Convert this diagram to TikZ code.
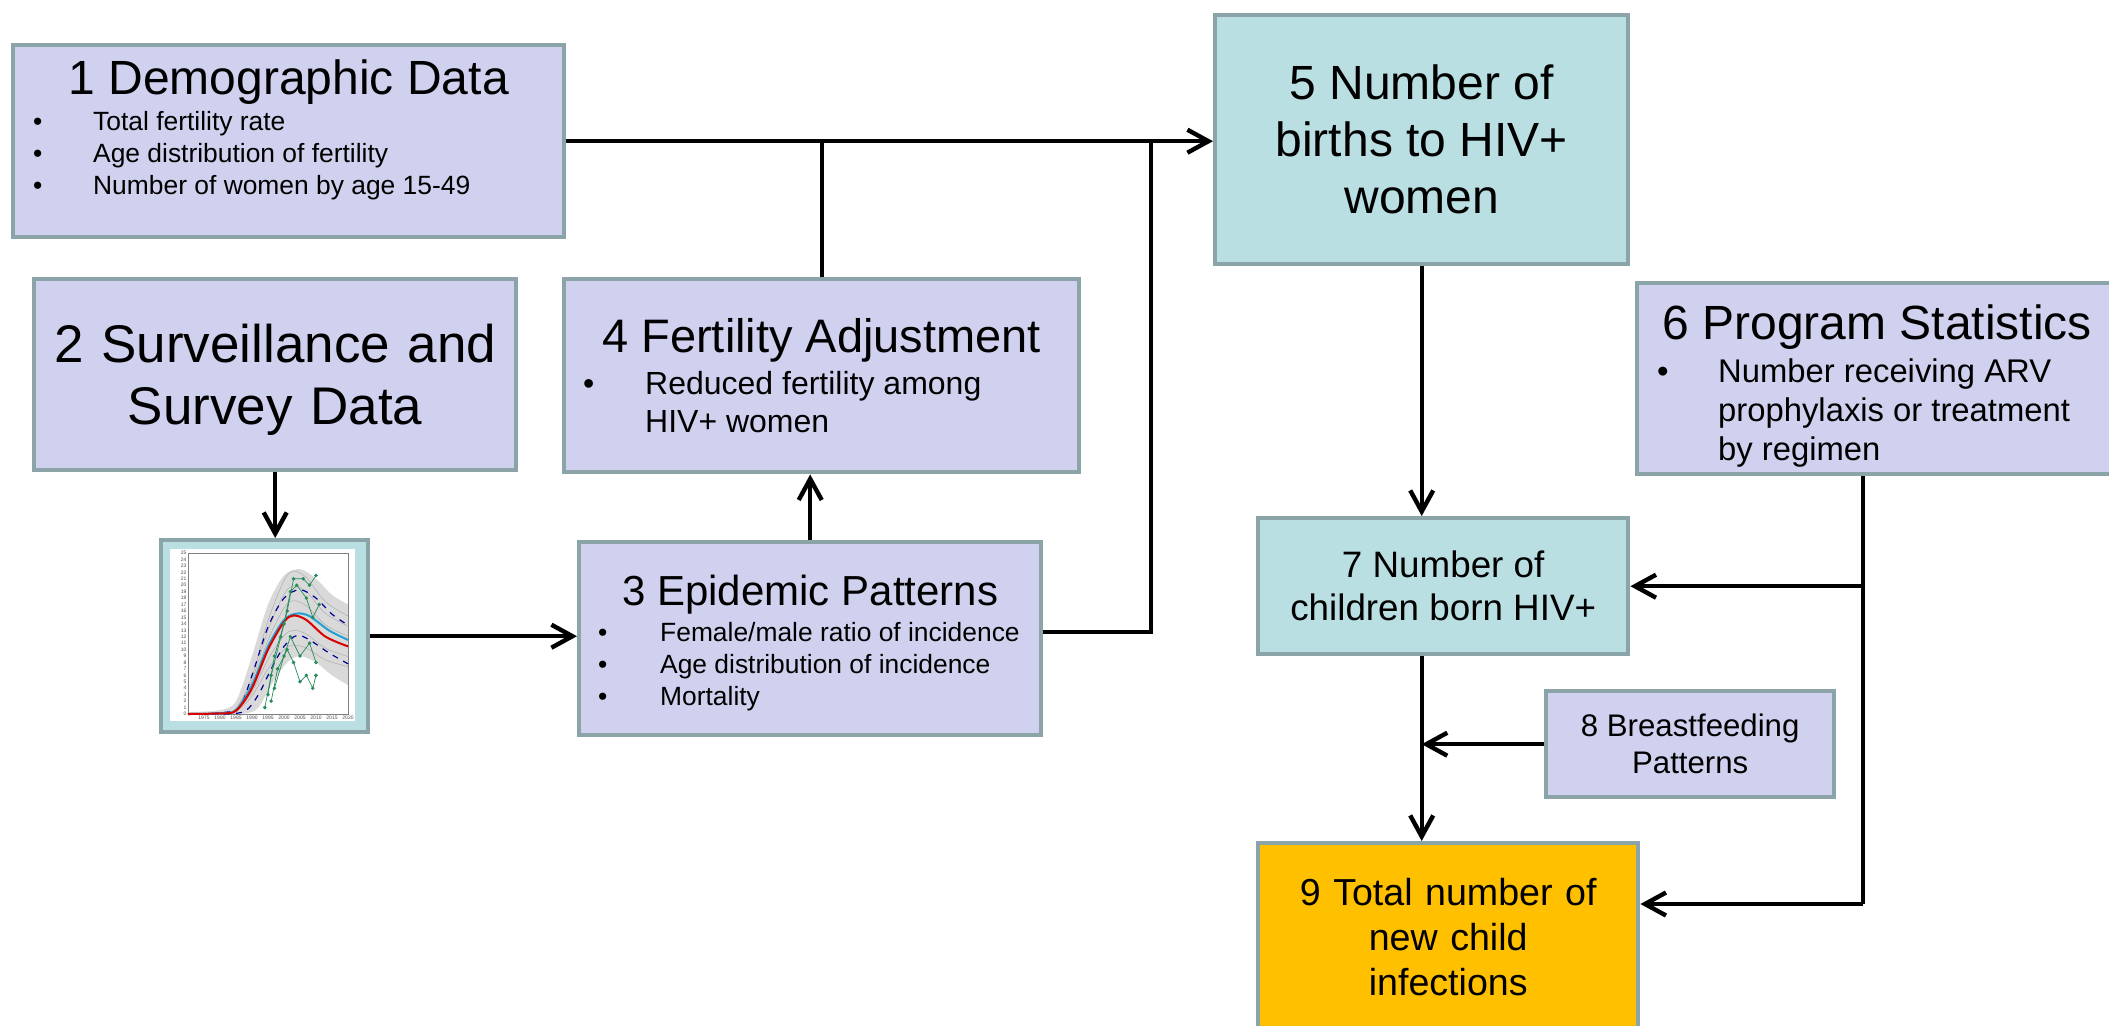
\documentclass[tikz,border=0pt]{standalone}
\usepackage{fontspec}
\setmainfont{Liberation Sans}
\usetikzlibrary{arrows.meta}

\definecolor{boxlav}{RGB}{208,209,238}
\definecolor{boxteal}{RGB}{186,223,226}
\definecolor{boxgold}{RGB}{255,192,0}
\definecolor{edgegray}{RGB}{138,164,167}
\definecolor{dotgreen}{RGB}{40,140,90}

% font size with normal word spaces, bullet line and its continuation
\newcommand{\fs}[2]{\fontsize{#1}{#2}\selectfont\spaceskip=0pt\xspaceskip=0pt\relax}
\newcommand{\bitem}[2]{\par\noindent\makebox[#1][l]{\textbullet}#2}
\newcommand{\bmore}[2]{\par\noindent\hspace*{#1}#2}
\newcommand{\boxtitle}[2]{{\centering\fs{#1}{#1}#2\par}}
% extra room under the text of a box (moves the text up)
\newcommand{\lift}[1]{\par\vspace{#1}\hrule height0pt}

\begin{document}
\begin{tikzpicture}[x=0.5pt, y=-0.5pt,
  box/.style={draw=edgegray, line width=2.2pt, inner sep=0pt, anchor=north west},
  lavbox/.style={box, fill=boxlav},
  tealbox/.style={box, fill=boxteal},
  goldbox/.style={box, fill=boxgold},
  flow/.style={line width=2.2pt, -{Straight Barb[length=10.5pt,width=11.5pt]}},
  link/.style={line width=2.2pt},
  tick/.style={font=\fontsize{2.5}{3}\selectfont, inner sep=0.6pt, text=black!70}]
  \clip (0,0) rectangle (2109,1025);

  % input boxes
  \node[lavbox, minimum width=275.5pt, minimum height=96pt, text width=255.5pt,
        inner xsep=10pt, align=left] (demog) at (11,43) {%
    \boxtitle{24}{1 Demographic Data}\vspace{2pt}
    \fs{13.2}{16}
    \bitem{30pt}{Total fertility rate}
    \bitem{30pt}{Age distribution of fertility}
    \bitem{30pt}{Number of women by age 15-49}\lift{11pt}};
  \node[lavbox, minimum width=241pt, minimum height=95.5pt, text width=241pt,
        align=center, font=\fontsize{26.5}{31}\selectfont] (surv) at (32,277)
    {2 Surveillance and\\Survey Data\lift{-5.5pt}};
  \node[lavbox, minimum width=257.5pt, minimum height=96.5pt, text width=238.5pt,
        inner xsep=9.5pt, align=left] (fert) at (562,277) {%
    \boxtitle{23.5}{4 Fertility Adjustment}\vspace{2pt}
    \fs{16}{19}
    \bitem{31pt}{Reduced fertility among}
    \bmore{31pt}{HIV+ women}\par};
  \node[lavbox, minimum width=231pt, minimum height=96.5pt, text width=212pt,
        inner xsep=9.5pt, align=left] (epid) at (577,540) {%
    \boxtitle{21}{3 Epidemic Patterns}\vspace{2pt}
    \fs{13.2}{16}
    \bitem{31pt}{Female/male ratio of incidence}
    \bitem{31pt}{Age distribution of incidence}
    \bitem{31pt}{Mortality}\lift{-4pt}};
  \node[lavbox, minimum width=240pt, minimum height=95.5pt, text width=220pt,
        inner xsep=10pt, align=left] (prog) at (1635,281) {%
    \boxtitle{24}{6 Program Statistics}\vspace{2pt}
    \fs{16.4}{19.5}
    \bitem{30.5pt}{Number receiving ARV}
    \bmore{30.5pt}{prophylaxis or treatment}
    \bmore{30.5pt}{by regimen}\lift{-7.5pt}};
  \node[lavbox, minimum width=144pt, minimum height=53pt, align=center,
        font=\fontsize{15.6}{18.5}\selectfont] (breast) at (1544,689)
    {8 Breastfeeding\\Patterns};

  % results
  \node[tealbox, minimum width=206.5pt, minimum height=124.5pt, align=center,
        font=\fontsize{24}{28.5}\selectfont] (births) at (1213,13)
    {5 Number of\\births to HIV+\\women};
  \node[tealbox, minimum width=185pt, minimum height=68pt, align=center,
        font=\fontsize{18.4}{21.5}\selectfont] (born) at (1256,516)
    {7 Number of\\children born HIV+};
  \node[goldbox, minimum width=190pt, minimum height=99.5pt, text width=190pt,
        align=center, font=\fontsize{18.8}{22.5}\selectfont] (total) at (1256,841)
    {9 Total number of\\new child\\infections\lift{6pt}};

  % epidemic curve picture
  \node[box, fill=boxteal, minimum width=103.5pt, minimum height=96pt] (chart) at (159,538) {};
  \fill[white] (170,549) rectangle (355,721);
  \begin{scope}[shift={(188,714)}, x=1.6pt, y=3.22pt]
    \fill[black!15] plot[smooth] coordinates {(0,0.3) (10,0.6) (15,2) (20,9) (25,17)
        (30,21.5) (35,22.5) (40,21) (45,18.5) (50,17)}
      -- plot[smooth] coordinates {(50,4.5) (45,6) (40,8) (35,9) (31,8) (26,4.5)
        (22,1) (18,0.1) (10,0) (0,0)} -- cycle;
    \foreach \s in {0.7,0.85,1.15,1.3,1.45}
      \draw[black!35, line width=0.2pt] plot[smooth] coordinates {(0,0) (10,{0.1*\s})
        (15,{0.6*\s}) (20,{4*\s}) (25,{10*\s}) (30,{14.3*\s}) (33,{15.3*\s})
        (37,{14.6*\s}) (43,{12*\s}) (50,{10.5*\s})};
    \draw[black!50, line width=0.3pt] (0,0) rectangle (50,25);
    \foreach \v in {0,...,25}
      \node[tick, anchor=east] (yl\v) at (0,\v) {\v};
    \foreach \yr in {1975,1980,...,2020}
      \node[tick, anchor=north] (xl\yr) at (\yr-1970,0) {\yr};
    \draw[blue!60!black, dashed, line width=0.6pt] plot[smooth] coordinates {(0,0)
      (10,0.2) (16,1) (20,6) (25,13.5) (30,18) (35,19.3) (40,18) (45,15.5) (50,13.8)};
    \draw[blue!60!black, dashed, line width=0.6pt] plot[smooth] coordinates {(0,0)
      (12,0) (18,0.5) (22,3) (26,7) (30,10.5) (34,12.2) (38,11.5) (44,9.5) (50,7.8)};
    \draw[cyan!70!teal, line width=1pt] plot[smooth] coordinates {(0,0) (10,0.1)
      (15,0.6) (20,4.5) (25,10.5) (30,14.6) (34,15.6) (38,15.2) (44,13) (50,11.5)};
    \draw[red!85!black, line width=1pt] plot[smooth] coordinates {(0,0) (10,0.1)
      (15,0.5) (20,4) (25,10) (30,14.3) (33,15.3) (37,14.6) (43,12) (50,10.5)};
    \draw[dotgreen, line width=0.35pt, mark=*, mark size=0.7pt] plot coordinates
      {(24,1) (26,6) (29,12) (31,16) (33,21) (36,21) (38,20) (40,21.5)};
    \draw[dotgreen, line width=0.35pt, mark=*, mark size=0.7pt] plot coordinates
      {(25,3) (27,9) (30,14) (32,19) (34,20) (37,18) (39,15) (41,17)};
    \draw[dotgreen, line width=0.35pt, mark=*, mark size=0.7pt] plot coordinates
      {(26,2) (28,7) (31,10) (33,8) (35,5) (37,6) (39,4) (40,6)};
    \draw[dotgreen, line width=0.35pt, mark=*, mark size=0.7pt] plot coordinates
      {(27,4) (30,9) (32,12) (35,9) (38,11) (40,8)};
  \end{scope}

  % connectors
  \coordinate (join) at (1151,139);
  \coordinate (feed) at (1863,904);
  \draw[flow] (demog.east) -- (demog.east -| births.west);
  \draw[link] (fert.north) -- (fert.north |- demog.east);
  \draw[link] ([yshift=3.5pt]epid.east) -| (join);
  \draw[flow] (surv.south) -- (surv.south |- chart.north);
  \draw[flow] (chart.east) -- (chart.east -| epid.west);
  \draw[flow] (epid.north) -- (epid.north |- fert.south);
  \draw[flow] (births.south) -- (births.south |- born.north);
  \draw[flow] (births.south |- born.south) -- (births.south |- total.north);
  \draw[flow] (breast.west) -- (breast.west -| births.south);
  \draw[link] (prog.south -| feed) -- (feed);
  \draw[flow] (feed |- born.east) -- (born.east);
  \draw[flow] (feed) -- (feed -| total.east);
\end{tikzpicture}
\end{document}
